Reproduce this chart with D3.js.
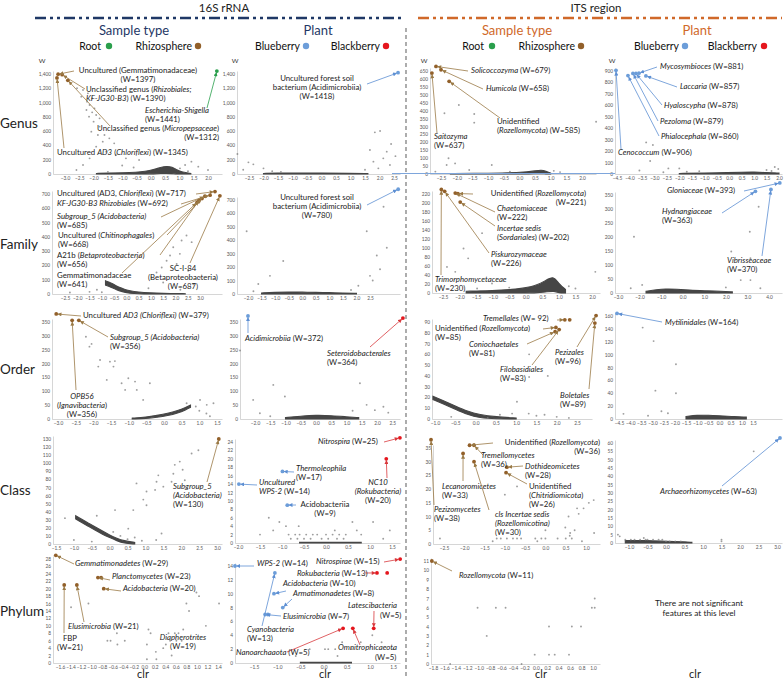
<!DOCTYPE html>
<html lang="en">
<head>
<meta charset="utf-8">
<script src="https://cdn.jsdelivr.net/npm/d3@7/dist/d3.min.js"></script>
<style>
  body { margin: 0; background: #fff; }
  svg { font-family: Lato, "Open Sans", sans-serif; }
  .tick text { fill: #555; }
  .domain { stroke: #c4c4c4; stroke-width: 0.7; }
</style>
</head>
<body>
<svg id="chart" width="784" height="679"></svg>
<script>
// ---- data: gray features [clr, W], dense bands [clr, Wlow, Whigh], highlighted features [name, clr, W, group]

// 16S, Genus
const s16GenusTypePts = [[-2.58,1200],[-2.37,1176],[-2.2,1129],[-2.43,1083],[-2.23,1013],[-2.05,1059],[-2.14,966],[-1.97,919],[-2.25,896],[-2.05,863],[-1.91,826],[-2.16,803],[-1.79,779],[-2.0,733],[-1.79,663],[-2.08,593],[-1.85,546],[-1.62,546],[-1.45,499],[-1.68,453],[-1.28,429],[-1.91,383],[-1.56,313],[-1.22,266],[-2.14,219],[-2.37,126],[-0.87,219],[-0.41,196],[1.2,126],[1.42,173],[1.66,103],[2.0,56],[1.02,79],[-2.6,56],[-1.0,120],[-0.6,90],[1.3,40],[-1.5,30]];
const s16GenusTypeBand = [[-1.9,0,8],[-1.5,0,12],[-1.0,0,16],[-0.5,0,24],[-0.2,0,36],[0.1,2,60],[0.35,6,95],[0.55,10,110],[0.75,6,100],[0.9,0,60],[1.1,0,25],[1.4,0,8]];
const s16GenusTypeHits = [["Uncultured (Gemmatimonadaceae)",-3.24,1397,"rhizo"],["Unclassified genus (Rhizobiales; KF-JG30-B3)",-3.1,1390,"rhizo"],["Unclassified genus (Micropepsaceae)",-2.9,1312,"rhizo"],["Uncultured AD3 (Chloriflexi)",-3.28,1345,"rhizo"],["Escherichia-Shigella",2.31,1441,"root"]];

const s16GenusPlantPts = [[-2.9,280],[-2.52,163],[-2.35,135],[-2.0,79],[-2.7,60],[-1.7,40],[-1.4,30],[2.02,602],[1.84,583],[1.67,336],[2.13,219],[2.25,313],[1.79,173],[1.96,79],[2.36,126],[1.5,60],[2.4,420],[2.55,250]];
const s16GenusPlantBand = [[-2.0,0,8],[-1.5,0,12],[-1.0,0,15],[0,0,12],[1.0,0,10],[1.6,0,6]];
const s16GenusPlantHits = [["Uncultured forest soil bacterium (Acidimicrobiia)",2.64,1418,"blue"]];

// ITS, Genus
const itsGenusTypePts = [[-1.93,435],[-2.39,383],[-1.44,379],[-1.44,324],[-2.06,214],[-2.26,99],[-2.05,67],[-2.32,57],[-0.88,57],[2.45,330],[-2.68,15],[-1.6,25],[1.1,20],[1.3,12],[-0.3,15]];
const itsGenusTypeBand = [[-2.2,0,3],[-1.5,0,4],[-0.5,0,6],[0.2,0,12],[0.5,2,20],[0.7,3,26],[0.85,0,18],[1.0,0,5]];
const itsGenusTypeHits = [["Solicoccozyma",-2.66,679,"rhizo"],["Humicola",-2.5,658,"rhizo"],["Unidentified (Rozellomycota)",-2.24,585,"rhizo"],["Saitozyma",-2.79,637,"rhizo"]];

const itsGenusPlantPts = [[-3.33,276],[-3.06,253],[-3.17,113],[-2.0,49],[-2.44,49],[-1.7,20],[-2.64,15],[1.5,35],[1.7,26],[1.97,44],[1.83,61],[-3.6,30],[-1.2,25]];
const itsGenusPlantBand = [[-2.0,0,5],[-1.0,0,8],[0,0,12],[0.5,0,15],[1.0,0,18],[1.5,0,12],[2.0,0,8]];
const itsGenusPlantHits = [["Cenococcum",-4.54,906,"blue"],["Phialocephala",-4.06,860,"blue"],["Pezoloma",-3.86,879,"blue"],["Hyaloscypha",-3.74,878,"blue"],["Mycosymbioces",-3.62,881,"blue"],["Laccaria",-3.34,857,"blue"]];

// 16S, Family
const s16FamilyTypePts = [[2.45,410],[2.66,363],[2.25,375],[1.91,327],[2.18,281],[1.78,269],[1.64,233],[1.44,186],[1.23,151],[1.03,115],[2.05,210],[2.73,68],[3.0,115],[2.52,163],[1.5,80],[-2.3,10],[-1.5,15],[-1.2,30],[-1.0,12],[0.9,40],[2.2,30]];
const s16FamilyTypeBand = [[-0.85,62,92],[-0.6,45,75],[-0.4,30,56],[-0.2,18,42],[0,9,28],[0.3,3,17],[0.7,0,10],[1.2,0,6],[1.8,0,4],[2.4,0,2]];
const s16FamilyTypeHits = [["Uncultured (AD3, Chloriflexi)",3.61,717,"rhizo"],["KF-JG30-B3 Rhizobiales",3.41,692,"rhizo"],["Subgroup_5 (Acidobacteria)",3.2,685,"rhizo"],["Uncultured (Chitinophagales)",3.08,668,"rhizo"],["A21b (Betaproteobacteria)",2.96,656,"rhizo"],["Gemmatimonadaceae",2.88,641,"rhizo"],["SC-I-84 (Betaproteobacteria)",3.81,687,"rhizo"]];

const s16FamilyPlantPts = [[-2.05,467],[-0.7,246],[-1.19,135],[2.38,467],[2.75,287],[3.12,344],[2.87,184],[2.5,135],[2.07,61],[-1.62,74],[3.0,650],[2.6,100],[-1.8,20],[1.8,30]];
const s16FamilyPlantBand = [[-1.5,0,8],[-1.0,0,12],[-0.5,0,15],[0,0,14],[0.5,0,12],[1.0,0,10],[1.5,0,8],[2.0,0,5]];
const s16FamilyPlantHits = [["Uncultured forest soil bacterium (Acidimicrobiia)",3.54,780,"blue"]];

// ITS, Family
const itsFamilyTypePts = [[-1.88,99],[-1.74,77],[-1.32,133],[2.1,47],[-2.38,58],[-2.13,47],[-1.02,21],[-1.47,10],[1.3,15],[1.5,10],[-0.5,12]];
const itsFamilyTypeBand = [[-1.8,0,4],[-1.0,0,5],[-0.3,0,8],[0.3,0,15],[0.6,2,28],[0.85,5,38],[1.0,0,20],[1.2,0,8]];
const itsFamilyTypeHits = [["Trimorphomycetaceae",-2.55,230,"rhizo"],["Piskurozymaceae",-2.45,226,"rhizo"],["Chaetomiaceae",-2.13,222,"rhizo"],["Unidentified (Rozellomycota)",-2.05,221,"rhizo"],["Incertae sedis (Sordariales)",-1.98,202,"rhizo"]];

const itsFamilyPlantPts = [[-2.26,201],[3.52,308],[3.11,219],[2.25,148],[3.14,124],[2.69,46],[3.14,46],[-1.88,29],[-2.41,17],[3.6,17],[2.0,20]];
const itsFamilyPlantBand = [[-1.7,0,6],[-1.2,0,12],[-0.8,0,15],[-0.3,0,14],[0.3,0,10],[1.0,0,8],[1.8,0,6],[2.3,0,4]];
const itsFamilyPlantHits = [["Gloniaceae",4.5,393,"blue"],["Hydnangiaceae",3.37,363,"blue"],["Vibrisseaceae",4.09,370,"blue"]];

// 16S, Order
const s16OrderTypePts = [[-2.21,297],[-2.11,261],[-2.05,271],[-1.81,213],[-1.53,207],[-1.39,209],[-1.86,189],[-1.62,141],[-1.2,129],[-1.01,147],[-0.82,135],[-0.77,105],[-0.4,129],[-0.59,69],[1.02,69],[1.4,57],[1.21,51],[0.64,57],[-1.1,105],[-1.43,189],[0.9,45],[1.0,30],[1.2,20],[1.3,10]];
const s16OrderTypeBand = [[-0.9,0,3],[-0.5,2,7],[-0.2,6,13],[0.1,12,20],[0.4,22,31],[0.6,32,41],[0.75,42,50]];
const s16OrderTypeHits = [["Uncultured AD3 (Chloriflexi)",-3.05,379,"rhizo"],["OPB56 (Ignavibacteria)",-2.6,356,"rhizo"],["Subgroup_5 (Acidobacteria)",-2.41,356,"rhizo"]];

const s16OrderPlantPts = [[-2.49,247],[-2.06,69],[-1.4,123],[-1.02,81],[1.44,129],[-1.84,21],[1.66,51],[1.93,32],[2.21,44],[2.37,23],[-1.5,10],[1.2,30]];
const s16OrderPlantBand = [[-1.0,0,5],[-0.5,0,10],[0,0,14],[0.5,0,12],[1.0,0,8],[1.4,0,5]];
const s16OrderPlantHits = [["Acidimicrobiia",-2.23,372,"blue"],["Seteroidobacterales",2.85,364,"black"]];

// ITS, Order
const itsOrderTypePts = [[1.32,60],[1.78,40],[1.32,39],[1.02,16],[1.31,5],[0.6,4],[0.9,5],[1.5,3],[2.0,2],[1.7,4],[2.3,1],[-0.6,2],[0.3,1]];
const itsOrderTypeBand = [[-1.05,18,21],[-0.8,14,17],[-0.5,9,12],[-0.2,4,7],[0.1,1,4],[0.5,0,2],[1.0,0,1]];
const itsOrderTypeHits = [["Tremellales",2.2,92,"rhizo"],["Tremellales",2.32,92,"rhizo"],["Unidentified (Rozellomycota)",1.98,85,"rhizo"],["Coniochaetales",1.96,81,"rhizo"],["Filobasidiales",2.06,83,"rhizo"],["Pezizales",2.97,96,"rhizo"],["Boletales",2.94,89,"rhizo"]];

const itsOrderPlantPts = [[-3.44,142],[-2.95,121],[-1.95,85],[-2.87,44],[-1.95,40],[-2.31,9],[-3.2,5],[-2.6,12],[-4.3,8]];
const itsOrderPlantBand = [[-1.5,0,4],[-1.0,0,6],[-0.5,0,6],[0,0,5],[0.5,0,4],[1.2,0,3]];
const itsOrderPlantHits = [["Mytilinidales",-4.59,164,"blue"]];

// 16S, Class
const s16ClassTypePts = [[2.29,112],[2.48,116],[1.96,102],[1.82,98],[2.04,92],[2.1,79],[1.73,77],[1.36,85],[1.31,77],[1.5,71],[1.27,67],[1.03,65],[0.94,55],[0.75,75],[1.03,48],[0.66,42],[0.15,42],[-0.36,35],[-1.25,32],[0.52,19],[1.45,13],[1.78,87],[-1.0,5],[-0.5,3],[0.3,10],[0.5,6],[0.7,8],[0.9,4],[1.3,5],[0.1,15]];
const s16ClassTypeBand = [[-0.95,31,35],[-0.8,27,31],[-0.6,22,26],[-0.4,17,21],[-0.2,12,16],[0,8,11],[0.2,4,7],[0.4,1,4],[0.7,0,2]];
const s16ClassTypeHits = [["Subgroup_5 (Acidobacteria)",3.05,130,"rhizo"]];

const s16ClassPlantPts = [[-1.06,5],[-0.91,4],[-0.62,4],[0.6,5],[1.07,5],[-1.2,3],[-1.5,2],[-0.85,2],[-0.7,2],[-0.6,2],[-0.45,2],[-0.3,2],[-0.2,2],[0,2],[0.15,2],[0.3,2],[0.45,2],[0.8,2],[-0.8,1],[-0.65,1],[-0.5,1],[-0.35,1],[-0.1,1],[0.05,1],[0.25,1],[0.4,1],[1.3,1],[1.45,3],[0.7,3],[0.2,3],[-1.3,6]];
const s16ClassPlantBand = [[-0.6,0,0.15],[0.8,0,0.15]];
const s16ClassPlantHits = [["Uncultured WPS-2",-1.98,14,"blue"],["Thermoleophila",-0.99,17,"blue"],["Acidobacteriia",-0.88,9,"blue"],["Nitrospira",1.68,25,"black"],["NC10 (Rokubacteria)",1.37,20,"black"]];

// ITS, Class
const itsClassTypePts = [[-0.7,21],[-1.0,18],[0.82,11],[0.57,10],[0.78,13],[0.94,13],[1.07,15],[1.19,16],[0.49,6],[0.72,5],[0.61,4],[-2.6,2],[-1.2,2],[-1.1,2],[-0.95,2],[-0.8,2],[-0.7,2],[-0.6,2],[-0.25,2],[-0.1,2],[0,2],[0.3,2],[0.5,2],[-1.3,1],[-0.2,1],[0,5],[0.6,3],[0.9,1],[0.65,2],[1.2,4]];
const itsClassTypeBand = [];
const itsClassTypeHits = [["Pezizomycetes",-2.82,38,"rhizo"],["Lecanoromicetes",-2.03,33,"rhizo"],["Unidentified (Rozellomycota)",-1.87,36,"rhizo"],["Tremellomycetes",-1.76,36,"rhizo"],["Dothideomicetes",-0.95,28,"rhizo"],["Unidentified (Chitridiomicota)",-0.97,26,"rhizo"],["cls Incertae sedis (Rozellomicotina)",-1.76,30,"rhizo"]];

const itsClassPlantPts = [[2.37,55],[-1.3,5],[-1.25,4],[-1.1,2],[-0.95,2],[-0.85,2],[-0.7,2],[-0.55,2],[-0.5,2],[-0.35,2],[-0.2,2],[-0.1,2],[0,1],[0.1,1],[0.25,1],[0.4,1],[-0.6,3],[1.5,2],[1.5,1]];
const itsClassPlantBand = [[-1.1,0,1.5],[-0.5,0,1.5],[0,0,1],[0.5,0,0.7],[0.7,0,0.4]];
const itsClassPlantHits = [["Archaeorhizomycetes",3.08,63,"blue"]];

// 16S, Phylum
const s16PhylumTypePts = [[-1.06,16],[-1.39,15],[-0.52,8],[-0.7,6],[-0.64,6],[-0.51,5],[-0.37,6],[0.05,5],[0.08,9],[0.12,8],[0.22,3],[0.05,1],[0.23,1],[0.36,4],[0.49,6],[0.58,8],[0.65,8],[0.61,6],[0.74,9],[0.52,2],[0.8,16],[0.85,14],[0.99,19],[1.04,18],[1.17,10],[1.42,16],[0.41,5],[0.46,8],[0.71,6]];
const s16PhylumTypeBand = [];
const s16PhylumTypeHits = [["Gemmatimonadetes",-1.68,29,"rhizo"],["Planctomycetes",-0.88,23,"rhizo"],["Planctomycetes",-0.82,23,"rhizo"],["Acidobacteria",-0.77,20,"rhizo"],["FBP",-1.52,21,"rhizo"],["Elusimicrobia",-1.28,21,"rhizo"]];

const s16PhylumPlantPts = [[0.03,2],[-0.3,2],[0.1,2],[0.25,2],[0.4,3],[0.8,3],[1.05,4],[1.25,3],[-0.6,1],[0.6,2],[1.5,2],[0.3,1]];
const s16PhylumPlantBand = [[-0.5,0,0.1],[0.6,0,0.1]];
const s16PhylumPlantHits = [["WPS-2",-1.91,14,"blue"],["Cyanobacteria",-1.05,13,"blue"],["Acidobacteria",-1.07,10,"blue"],["Armatimonadetes",-0.88,8,"blue"],["Elusimicrobia",-1.26,7,"blue"],["Elusimicrobia",-1.2,7,"blue"],["Nitrospirae",1.65,15,"black"],["Rokubacteria",1.15,13,"black"],["Rokubacteria",1.37,13,"black"],["Latescibacteria",1.08,5,"black"],["Omnitrophicaeota",0.63,5,"black"],["Nanoarchaaota",0.42,5,"black"]];

// ITS, Phylum
const itsPhylumTypePts = [[-1.02,6],[-0.7,6],[-0.53,6],[-0.86,3],[-0.02,1],[0.23,1],[0.33,1],[0.58,1],[0.23,4],[0.63,4],[0.79,4],[0.98,6],[1.03,6],[1.03,7],[-1.5,0],[-0.25,0]];
const itsPhylumTypeBand = [];
const itsPhylumTypeHits = [["Rozellomycota",-1.82,11,"rhizo"]];

const rowNames = ["Genus", "Family", "Order", "Class", "Phylum"];
const legendNames = ["Root", "Rhizosphere", "Blueberry", "Blackberry"];

// ---- layout: label placement (text x,y and where the arrow leaves the text)
const s16GenusTypeNotes = [
  {to:"Uncultured (Gemmatimonadaceae)", lines:["Uncultured (Gemmatimonadaceae)","(W=1397)"], x:138, y:72.5, a:"middle", from:[74,71]},
  {to:"Unclassified genus (Rhizobiales; KF-JG30-B3)", lines:["Unclassified genus (*Rhizobiales;*","*KF-JG30-B3*) (W=1390)"], x:86, y:91.5, from:[85,89]},
  {to:"Escherichia-Shigella", lines:["*Escherichia-Shigella*","(W=1441)"], x:145, y:113, from:[207,108]},
  {to:"Unclassified genus (Micropepsaceae)", lines:["Unclassified genus (*Micropepsaceae*)","(W=1312)"], x:219, y:131, a:"end", from:[110,126]},
  {to:"Uncultured AD3 (Chloriflexi)", lines:["Uncultured *AD3* (*Chloriflexi*) (W=1345)"], x:57, y:155, from:[64,148]}
];
const s16GenusPlantNotes = [
  {to:"Uncultured forest soil bacterium (Acidimicrobiia)", lines:["Uncultured forest soil","bacterium (Acidimicrobiia)","(W=1418)"], x:317, y:81, a:"middle", from:[367,84]}
];
const itsGenusTypeNotes = [
  {to:"Solicoccozyma", lines:["*Solicoccozyma* (W=679)"], x:471, y:73, from:[468,71]},
  {to:"Humicola", lines:["*Humicola* (W=658)"], x:486, y:91, from:[483,89]},
  {to:"Unidentified (Rozellomycota)", lines:["Unidentified","(*Rozellomycota*) (W=585)"], x:497, y:124, from:[500,118]},
  {to:"Saitozyma", lines:["*Saitozyma*","(W=637)"], x:434, y:139, from:[437,133]}
];
const itsGenusPlantNotes = [
  {to:"Mycosymbioces", lines:["*Mycosymbioces* (W=881)"], x:660, y:69, from:[657,67]},
  {to:"Laccaria", lines:["*Laccaria* (W=857)"], x:680, y:89, from:[677,87]},
  {to:"Hyaloscypha", lines:["*Hyaloscypha* (W=878)"], x:664, y:108, from:[662,105]},
  {to:"Pezoloma", lines:["*Pezoloma* (W=879)"], x:660, y:124, from:[658,121]},
  {to:"Phialocephala", lines:["*Phialocephala* (W=860)"], x:661, y:139, from:[659,136]},
  {to:"Cenococcum", lines:["*Cenococcum* (W=906)"], x:618, y:155, from:[621,149]}
];
const s16FamilyTypeNotes = [
  {to:"Uncultured (AD3, Chloriflexi)", lines:["Uncultured (AD3, *Chloriflexi*) (W=717)"], x:57, y:196, from:[196,194]},
  {to:"KF-JG30-B3 Rhizobiales", lines:["*KF-JG30-B3 Rhizobiales* (W=692)"], x:57, y:206, from:[181,204]},
  {to:"Subgroup_5 (Acidobacteria)", lines:["*Subgroup_5 (Acidobacteria)*","(W=685)"], x:57, y:219, from:[161,217]},
  {to:"Uncultured (Chitinophagales)", lines:["Uncultured (*Chitinophagales*)","(W=668)"], x:58, y:238, from:[167,235]},
  {to:"A21b (Betaproteobacteria)", lines:["A21b (*Betaproteobacteria*)","(W=656)"], x:57, y:257.5, from:[160,255]},
  {to:"Gemmatimonadaceae", lines:["Gemmatimonadaceae","(W=641)"], x:57, y:277.5, from:[122,273]},
  {to:"SC-I-84 (Betaproteobacteria)", lines:["SC-I-84","(Betaproteobacteria)","(W=687)"], x:183, y:271, a:"middle", from:[190,263]}
];
const s16FamilyPlantNotes = [
  {to:"Uncultured forest soil bacterium (Acidimicrobiia)", lines:["Uncultured forest soil","bacterium (Acidimicrobiia)","(W=780)"], x:317, y:200, a:"middle", from:[367,205]}
];
const itsFamilyTypeNotes = [
  {to:"Unidentified (Rozellomycota)", lines:["Unidentified (*Rozellomycota*)","(W=221)"], x:586, y:196, a:"end", from:[473,194]},
  {to:"Chaetomiaceae", lines:["*Chaetomiaceae*","(W=222)"], x:497, y:211, from:[495,212]},
  {to:"Incertae sedis (Sordariales)", lines:["*Incertae sedis*","(*Sordariales*) (W=202)"], x:497, y:231, from:[495,226]},
  {to:"Piskurozymaceae", lines:["*Piskurozymaceae*","(W=226)"], x:491, y:257, from:[489,253]},
  {to:"Trimorphomycetaceae", lines:["*Trimorphomycetaceae*","(W=230)"], x:435, y:282, from:[441,275]}
];
const itsFamilyPlantNotes = [
  {to:"Gloniaceae", lines:["*Gloniaceae* (W=393)"], x:667, y:193, from:[744,191]},
  {to:"Hydnangiaceae", lines:["*Hydnangiaceae*","(W=363)"], x:662, y:214, from:[722,213]},
  {to:"Vibrisseaceae", lines:["*Vibrisseaceae*","(W=370)"], x:727, y:263, from:[762,256]}
];
const s16OrderTypeNotes = [
  {to:"Uncultured AD3 (Chloriflexi)", lines:["Uncultured *AD3 (Chloriflexi)* (W=379)"], x:83, y:318, from:[81,316]},
  {to:"Subgroup_5 (Acidobacteria)", lines:["*Subgroup_5 (Acidobacteria)*","(W=356)"], x:110, y:340, from:[108,337]},
  {to:"OPB56 (Ignavibacteria)", lines:["*OPB56*","(*Ignavibacteria*)","(W=356)"], x:82, y:399, a:"middle", from:[76,390]}
];
const s16OrderPlantNotes = [
  {to:"Acidimicrobiia", lines:["*Acidimicrobiia* (W=372)"], x:245, y:341, from:[248,333]},
  {to:"Seteroidobacterales", lines:["*Seteroidobacterales*","(W=364)"], x:327, y:356, from:[370,347]}
];
const itsOrderTypeNotes = [
  {to:"Tremellales", lines:["*Tremellales* (W= 92)"], x:483, y:321, from:[557,320]},
  {to:"Unidentified (Rozellomycota)", lines:["Unidentified (*Rozellomycota*)","(W=85)"], x:435, y:331, from:[543,329]},
  {to:"Coniochaetales", lines:["*Coniochaetales*","(W=81)"], x:469, y:347, from:[527,344]},
  {to:"Filobasidiales", lines:["*Filobasidiales*","(W=83)"], x:500, y:372, from:[532,365]},
  {to:"Pezizales", lines:["*Pezizales*","(W=96)"], x:555, y:355, from:[577,347]},
  {to:"Boletales", lines:["*Boletales*","(W=89)"], x:560, y:398, from:[589,389]}
];
const itsOrderPlantNotes = [
  {to:"Mytilinidales", lines:["*Mytilinidales* (W=164)"], x:665, y:325, from:[662,322]}
];
const s16ClassTypeNotes = [
  {to:"Subgroup_5 (Acidobacteria)", lines:["*Subgroup_5*","*(Acidobacteria)*","(W=130)"], x:173, y:489, from:[207,482]}
];
const s16ClassPlantNotes = [
  {to:"Nitrospira", lines:["*Nitrospira* (W=25)"], x:318, y:444, from:[384,442]},
  {to:"Thermoleophila", lines:["*Thermoleophila*","(W=17)"], x:296, y:471, from:[294,472]},
  {to:"Uncultured WPS-2", lines:["*Uncultured*","*WPS-2* (W=14)"], x:259, y:485, from:[257,485]},
  {to:"Acidobacteriia", lines:["Acidobacteriia","(W=9)"], x:325, y:507, a:"middle", from:[296,505]},
  {to:"NC10 (Rokubacteria)", lines:["*NC10*","*(Rokubacteria)*","(W=20)"], x:378, y:485, a:"middle", from:[387,478]}
];
const itsClassTypeNotes = [
  {to:"Unidentified (Rozellomycota)", lines:["Unidentified (*Rozellomycota*)","(W=36)"], x:600, y:445, a:"end", from:[493,443]},
  {to:"Tremellomycetes", lines:["*Tremellomycetes*","(W=36)"], x:481, y:458, from:[483,455]},
  {to:"Dothideomicetes", lines:["*Dothideomicetes*","(W=28)"], x:525, y:469, from:[523,466]},
  {to:"Unidentified (Chitridiomicota)", lines:["Unidentified","(*Chitridiomicota*)","(W=26)"], x:529, y:489, from:[527,484]},
  {to:"Lecanoromicetes", lines:["*Lecanoromicetes*","(W=33)"], x:442, y:489, from:[463,481]},
  {to:"Pezizomycetes", lines:["*Pezizomycetes*","(W=38)"], x:434, y:512, from:[434,505]},
  {to:"cls Incertae sedis (Rozellomicotina)", lines:["*cls Incertae sedis*","*(Rozellomicotina)*","(W=30)"], x:495, y:517, from:[489,510]}
];
const itsClassPlantNotes = [
  {to:"Archaeorhizomycetes", lines:["*Archaeorhizomycetes* (W=63)"], x:660, y:494, from:[722,486]}
];
const s16PhylumTypeNotes = [
  {to:"Gemmatimonadetes", lines:["*Gemmatimonadetes* (W=29)"], x:75, y:566, from:[74,564]},
  {to:"Planctomycetes", lines:["*Planctomycetes* (W=23)"], x:112, y:579, from:[110,580]},
  {to:"Acidobacteria", lines:["*Acidobacteria* (W=20)"], x:123, y:591, from:[121,591]},
  {to:"Elusimicrobia", lines:["*Elusimicrobia* (W=21)"], x:68, y:629, from:[84,622]},
  {to:"FBP", lines:["FBP","(W=21)"], x:70, y:641, a:"middle", from:[64,633]},
  {to:null, lines:["*Diapherotrites*","(W=19)"], x:183, y:640, a:"middle"}
];
const s16PhylumPlantNotes = [
  {to:"WPS-2", lines:["*WPS-2* (W=14)"], x:257, y:566, from:[254,566]},
  {to:"Nitrospirae", lines:["*Nitrospirae* (W=15)"], x:316, y:564, from:[384,562]},
  {to:"Rokubacteria", lines:["*Rokubacteria* (W=13)"], x:297, y:576, from:[365,573]},
  {to:"Acidobacteria", lines:["*Acidobacteria* (W=10)"], x:283, y:586, from:[286,591]},
  {to:"Armatimonadetes", lines:["*Armatimonadetes* (W=8)"], x:293, y:596, from:[292,599]},
  {to:"Elusimicrobia", lines:["*Elusimicrobia* (W=7)"], x:283, y:619, from:[281,616]},
  {to:"Latescibacteria", lines:["*Latescibacteria*"], x:348, y:608, from:[374,611]},
  {to:null, lines:["(W=5)"], x:380, y:618},
  {to:"Cyanobacteria", lines:["*Cyanobacteria*","(W=13)"], x:247, y:632, from:[262,626]},
  {to:"Nanoarchaaota", lines:["*Nanoarchaaota* (W=5)"], x:236, y:655, from:[287,652]},
  {to:"Omnitrophicaeota", lines:["*Omnitrophicaeota*"], x:338, y:650, from:[360,645]},
  {to:null, lines:["(W=5)"], x:375, y:660}
];
const itsPhylumTypeNotes = [
  {to:"Rozellomycota", lines:["*Rozellomycota* (W=11)"], x:459, y:578, from:[452,571]}
];

// panel frames: x scale anchors (clr -> px), axis extents, y scale (W -> px), tick specs
const panels = [
  {pts:s16GenusTypePts, band:s16GenusTypeBand, hits:s16GenusTypeHits, notes:s16GenusTypeNotes, xa:[-3,2], xp:[65,208], x0:53, x1:222, yMax:1400, yp:[174,74], xt:[-3,2,0.5], yt:[0,1400,200], yf:","},
  {pts:s16GenusPlantPts, band:s16GenusPlantBand, hits:s16GenusPlantHits, notes:s16GenusPlantNotes, xa:[-2.5,2.5], xp:[249,394], x0:237, x1:400, yMax:1400, yp:[174,74], xt:[-2.5,2.5,0.5], yt:[0,1400,200], yf:","},
  {pts:itsGenusTypePts, band:itsGenusTypeBand, hits:itsGenusTypeHits, notes:itsGenusTypeNotes, xa:[-2.5,2], xp:[441,582], x0:430, x1:596, yMax:650, yp:[174,71], xt:[-2.5,2,0.5], yt:[0,650,50]},
  {pts:itsGenusPlantPts, band:itsGenusPlantBand, hits:itsGenusPlantHits, notes:itsGenusPlantNotes, xa:[-4.5,2], xp:[617,779], x0:615, x1:782, yMax:900, yp:[174,71], xt:[-4.5,2,0.5], yt:[0,900,100]},

  {pts:s16FamilyTypePts, band:s16FamilyTypeBand, hits:s16FamilyTypeHits, notes:s16FamilyTypeNotes, xa:[-2.5,3], xp:[65,200], x0:52, x1:222, yMax:700, yp:[294,194], xt:[-2.5,3,0.5], yt:[0,700,100]},
  {pts:s16FamilyPlantPts, band:s16FamilyPlantBand, hits:s16FamilyPlantHits, notes:s16FamilyPlantNotes, xa:[-2,2.5], xp:[248,370], x0:237, x1:400, yMax:700, yp:[294,200], xt:[-2,2.5,0.5], yt:[0,700,100]},
  {pts:itsFamilyTypePts, band:itsFamilyTypeBand, hits:itsFamilyTypeHits, notes:itsFamilyTypeNotes, xa:[-2.5,2], xp:[443,592], x0:432, x1:600, yMax:220, yp:[293,194], xt:[-2.5,2,0.5], yt:[0,220,20]},
  {pts:itsFamilyPlantPts, band:itsFamilyPlantBand, hits:itsFamilyPlantHits, notes:itsFamilyPlantNotes, xa:[-3,4], xp:[618,769], x0:615, x1:782, yMax:350, yp:[293,195], xt:[-3,4,1], yt:[0,350,50]},

  {pts:s16OrderTypePts, band:s16OrderTypeBand, hits:s16OrderTypeHits, notes:s16OrderTypeNotes, xa:[-3,1.5], xp:[58,217], x0:52, x1:222, yMax:350, yp:[419,322], xt:[-3,1.5,0.5], yt:[0,350,50]},
  {pts:s16OrderPlantPts, band:s16OrderPlantBand, hits:s16OrderPlantHits, notes:s16OrderPlantNotes, xa:[-2,2], xp:[255,377], x0:240, x1:400, yMax:350, yp:[419,322], xt:[-2,2.5,0.5], yt:[0,350,50]},
  {pts:itsOrderTypePts, band:itsOrderTypeBand, hits:itsOrderTypeHits, notes:itsOrderTypeNotes, xa:[-1,2.5], xp:[435,577], x0:432, x1:592, yMax:90, yp:[419,322], xt:[-1,2.5,0.5], yt:[0,90,10]},
  {pts:itsOrderPlantPts, band:itsOrderPlantBand, hits:itsOrderPlantHits, notes:itsOrderPlantNotes, xa:[-4.5,1.5], xp:[619,753], x0:615, x1:782, yMax:160, yp:[419,316], xt:[-4.5,1.5,0.5], yt:[0,160,20]},

  {pts:s16ClassTypePts, band:s16ClassTypeBand, hits:s16ClassTypeHits, notes:s16ClassTypeNotes, xa:[-1.5,3], xp:[56,217], x0:53, x1:222, yMax:130, yp:[544,439], xt:[-1.5,3,0.5], yt:[0,130,10]},
  {pts:s16ClassPlantPts, band:s16ClassPlantBand, hits:s16ClassPlantHits, notes:s16ClassPlantNotes, xa:[-2,1], xp:[238,370], x0:235, x1:400, yMax:24, yp:[543,442], xt:[-2,1.5,0.5], yt:[0,24,2]},
  {pts:itsClassTypePts, band:itsClassTypeBand, hits:itsClassTypeHits, notes:itsClassTypeNotes, xa:[-2.5,1], xp:[444,586], x0:433, x1:600, yMax:35, yp:[544,448], xt:[-2.5,1,0.5], yt:[0,35,5]},
  {pts:itsClassPlantPts, band:itsClassPlantBand, hits:itsClassPlantHits, notes:itsClassPlantNotes, xa:[-1,3], xp:[629,777], x0:615, x1:782, yMax:60, yp:[543,443], xt:[-1,3,0.5], yt:[0,60,5]},

  {pts:s16PhylumTypePts, band:s16PhylumTypeBand, hits:s16PhylumTypeHits, notes:s16PhylumTypeNotes, xa:[-1.6,1.4], xp:[60,218], x0:53, x1:222, yMax:28, yp:[663,559], xt:[-1.6,1.4,0.2], yt:[0,28,2]},
  {pts:s16PhylumPlantPts, band:s16PhylumPlantBand, hits:s16PhylumPlantHits, notes:s16PhylumPlantNotes, xa:[-1.5,1], xp:[254,370], x0:235, x1:400, yMax:14, yp:[663,566], xt:[-1.5,1.5,0.5], yt:[0,14,2]},
  {pts:itsPhylumTypePts, band:itsPhylumTypeBand, hits:itsPhylumTypeHits, notes:itsPhylumTypeNotes, xa:[-1.8,1], xp:[433,593], x0:431, x1:600, yMax:11, yp:[664,561], xt:[-1.8,1,0.2], yt:[0,11,1]}
];

const COLOR = {root:"#2a9f4c", rhizo:"#92602a", blue:"#6c9dd9", black:"#e5161d"};
const LINE  = {root:"#2a9f4c", rhizo:"#9a7a46", blue:"#5d8fd3", black:"#d8383c"};
const NAVY = "#1f3866", ORANGE = "#d0692a";

const svg = d3.select("#chart");
const defs = svg.append("defs");
Object.entries(LINE).forEach(([k, c]) => {
  defs.append("marker")
    .attr("id", "ah-" + k)
    .attr("viewBox", "0 0 10 10")
    .attr("refX", 9).attr("refY", 5)
    .attr("markerWidth", 4.6).attr("markerHeight", 4)
    .attr("markerUnits", "userSpaceOnUse")
    .attr("orient", "auto")
    .append("path").attr("d", "M0,0L10,5L0,10Z").attr("fill", c);
});

const steps = ([a, b, s]) => d3.range(Math.round((b - a) / s) + 1).map(i => +(a + i * s).toFixed(3));

// text with *italic* parts, one tspan run per line
function addNote(g, n) {
  const t = g.append("text")
    .attr("x", n.x).attr("y", n.y)
    .attr("text-anchor", n.a || "start")
    .attr("font-size", 7.8).attr("fill", "#222");
  n.lines.forEach((ln, i) => {
    let first = true;
    ln.split("*").forEach((s, j) => {
      if (!s) return;
      const ts = t.append("tspan").text(s);
      if (j % 2) ts.attr("font-style", "italic");
      if (first) { ts.attr("x", n.x).attr("dy", i === 0 ? 0 : 9.2); first = false; }
    });
  });
}

function drawPanel(p) {
  const g = svg.append("g");
  const x = d3.scaleLinear().domain(p.xa).range(p.xp);
  const y = d3.scaleLinear().domain([0, p.yMax]).range(p.yp);
  const yTop = p.yp[1] - 3;
  const xAxisScale = d3.scaleLinear().domain([x.invert(p.x0), x.invert(p.x1)]).range([p.x0, p.x1]);
  const yAxisScale = d3.scaleLinear().domain([0, y.invert(yTop)]).range([p.yp[0], yTop]);

  const ax = g.append("g")
    .attr("transform", `translate(0,${p.yp[0]})`)
    .call(d3.axisBottom(xAxisScale).tickValues(steps(p.xt)).tickSize(0).tickSizeOuter(0).tickPadding(2.5).tickFormat(d3.format(".1f")));
  const ay = g.append("g")
    .attr("transform", `translate(${p.x0},0)`)
    .call(d3.axisLeft(yAxisScale).tickValues(steps(p.yt)).tickSize(0).tickSizeOuter(0).tickPadding(2).tickFormat(d3.format(p.yf || "d")));
  [ax, ay].forEach(a => a.attr("font-family", null).attr("font-size", 4.8));

  // dense cloud of features
  if (p.band.length) {
    g.append("path").datum(p.band)
      .attr("d", d3.area().x(d => x(d[0])).y0(d => y(d[1])).y1(d => y(d[2])).curve(d3.curveBasis))
      .attr("fill", "#262626").attr("stroke", "#262626").attr("stroke-width", 1.1).attr("opacity", 0.85);
  }
  g.append("g").selectAll("circle").data(p.pts).join("circle")
    .attr("cx", d => x(d[0])).attr("cy", d => y(d[1])).attr("r", 0.95)
    .attr("fill", "#7d7d7d").attr("opacity", 0.75);

  g.append("g").selectAll("circle").data(p.hits).join("circle")
    .attr("cx", d => x(d[1])).attr("cy", d => y(d[2])).attr("r", 1.9)
    .attr("fill", d => COLOR[d[3]]);

  p.notes.forEach(n => {
    const hit = n.to ? p.hits.find(h => h[0] === n.to) : null;
    if (hit && n.from) {
      const tx = x(hit[1]), ty = y(hit[2]);
      const dx = n.from[0] - tx, dy = n.from[1] - ty, len = Math.hypot(dx, dy) || 1;
      g.append("line")
        .attr("x1", n.from[0]).attr("y1", n.from[1])
        .attr("x2", tx + dx / len * 1.6).attr("y2", ty + dy / len * 1.6)
        .attr("stroke", LINE[hit[3]]).attr("stroke-width", 0.8)
        .attr("marker-end", `url(#ah-${hit[3]})`);
    }
    addNote(g, n);
  });
}

// header
svg.append("text").attr("x", 224).attr("y", 12).attr("text-anchor", "middle").attr("font-size", 11.5).attr("fill", "#222").text("16S rRNA");
svg.append("text").attr("x", 596).attr("y", 12).attr("text-anchor", "middle").attr("font-size", 11.5).attr("fill", "#222").text("ITS region");
svg.append("line").attr("x1", 35).attr("x2", 404).attr("y1", 18).attr("y2", 18)
  .attr("stroke", NAVY).attr("stroke-width", 2.6).attr("stroke-dasharray", "11,4,3,4,3,4");
svg.append("line").attr("x1", 418).attr("x2", 782).attr("y1", 18).attr("y2", 18)
  .attr("stroke", ORANGE).attr("stroke-width", 2.6).attr("stroke-dasharray", "11,4,3,4,3,4");
[[134, "Sample type", NAVY], [318, "Plant", NAVY], [517, "Sample type", ORANGE], [697, "Plant", ORANGE]].forEach(([cx, t, c]) => {
  svg.append("text").attr("x", cx).attr("y", 35).attr("text-anchor", "middle").attr("font-size", 13).attr("fill", c).text(t);
});
const legendPos = [[101, 109], [192, 198], [300, 306], [380, 386], [484, 492], [575, 581], [679, 685], [757, 764]];
const legendKey = ["root", "rhizo", "blue", "black"];
legendPos.forEach(([tx, dx], i) => {
  svg.append("text").attr("x", tx).attr("y", 49.5).attr("text-anchor", "end").attr("font-size", 10.5).attr("fill", "#111").text(legendNames[i % 4]);
  svg.append("circle").attr("cx", dx).attr("cy", 46).attr("r", 3.2).attr("fill", COLOR[legendKey[i % 4]]);
});
[42, 235, 424, 612].forEach(wx => {
  svg.append("text").attr("x", wx).attr("y", 63).attr("text-anchor", "middle").attr("font-size", 6.5).attr("fill", "#333").text("W");
});

// centre divider
svg.append("line").attr("x1", 406).attr("x2", 406).attr("y1", 28).attr("y2", 679)
  .attr("stroke", "#8a8a8a").attr("stroke-width", 1.4).attr("stroke-dasharray", "4,3");

panels.forEach(drawPanel);

// stray blue rule under the genus row, as in the source figure
svg.append("line").attr("x1", 392).attr("x2", 615).attr("y1", 173.5).attr("y2", 173.5)
  .attr("stroke", "#7ea6dc").attr("stroke-width", 1);

// row labels, x titles, empty panel message
[128, 249, 374, 495, 616].forEach((ry, i) => {
  svg.append("text").attr("x", 0).attr("y", ry).attr("font-size", 13.5).attr("fill", "#222").text(rowNames[i]);
});
[143, 325, 541, 695].forEach(cx => {
  svg.append("text").attr("x", cx).attr("y", 678).attr("text-anchor", "middle").attr("font-size", 11).attr("fill", "#222").text("clr");
});
svg.append("text").attr("x", 699).attr("y", 606).attr("text-anchor", "middle").attr("font-size", 8.3).attr("fill", "#222").text("There are not significant");
svg.append("text").attr("x", 699).attr("y", 616).attr("text-anchor", "middle").attr("font-size", 8.3).attr("fill", "#222").text("features at this level");
</script>
</body>
</html>
